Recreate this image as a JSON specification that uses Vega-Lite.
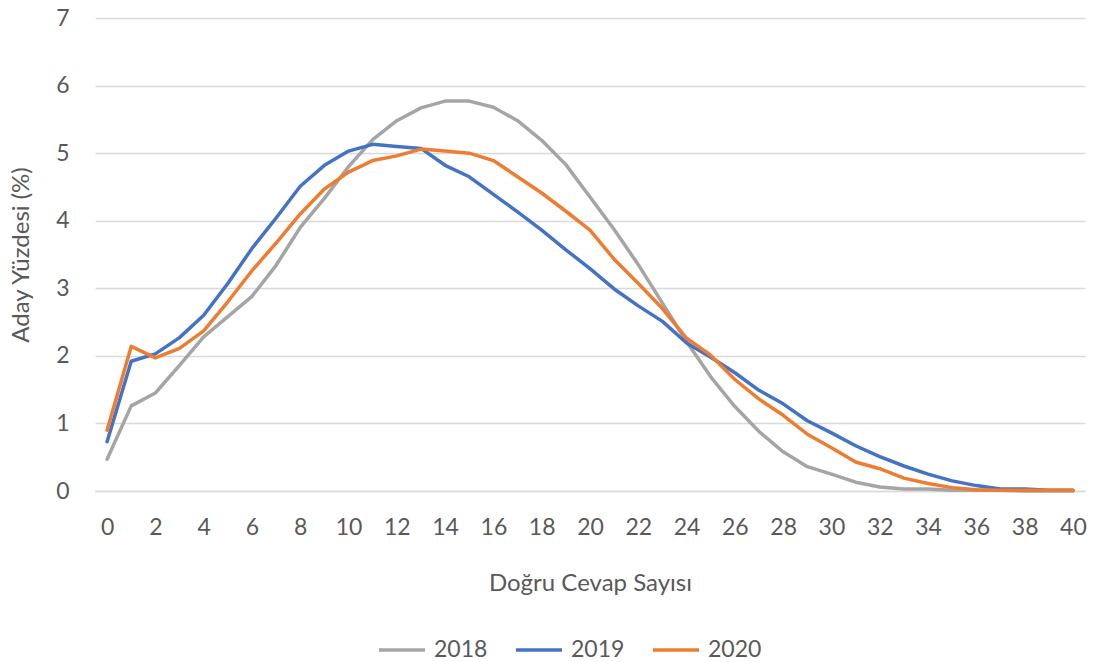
{
  "$schema": "https://vega.github.io/schema/vega-lite/v6.json",
  "autosize": {"type": "none"},
  "padding": {"left": 95, "top": 18, "right": 13, "bottom": 171},
  "width": 990,
  "height": 473,
  "background": "white",
  "config": {
    "font": "Lato",
    "view": {"stroke": null},
    "axis": {"labelColor": "#595959", "titleColor": "#595959", "labelFontSize": 23, "titleFontSize": 24, "titleFontWeight": "normal", "labelFont": "Lato", "titleFont": "Lato"},
    "legend": {"labelColor": "#595959", "labelFontSize": 23, "labelFont": "Lato"}
  },
  "datasets": {
    "d": [
      {"n":0,"yil":"2018","p":0.47},{"n":1,"yil":"2018","p":1.26},{"n":2,"yil":"2018","p":1.45},{"n":3,"yil":"2018","p":1.86},{"n":4,"yil":"2018","p":2.28},{"n":5,"yil":"2018","p":2.58},{"n":6,"yil":"2018","p":2.88},{"n":7,"yil":"2018","p":3.34},{"n":8,"yil":"2018","p":3.9},{"n":9,"yil":"2018","p":4.33},{"n":10,"yil":"2018","p":4.8},{"n":11,"yil":"2018","p":5.2},{"n":12,"yil":"2018","p":5.48},{"n":13,"yil":"2018","p":5.67},{"n":14,"yil":"2018","p":5.77},{"n":15,"yil":"2018","p":5.77},{"n":16,"yil":"2018","p":5.68},{"n":17,"yil":"2018","p":5.48},{"n":18,"yil":"2018","p":5.19},{"n":19,"yil":"2018","p":4.83},{"n":20,"yil":"2018","p":4.35},{"n":21,"yil":"2018","p":3.87},{"n":22,"yil":"2018","p":3.35},{"n":23,"yil":"2018","p":2.78},{"n":24,"yil":"2018","p":2.21},{"n":25,"yil":"2018","p":1.69},{"n":26,"yil":"2018","p":1.25},{"n":27,"yil":"2018","p":0.88},{"n":28,"yil":"2018","p":0.58},{"n":29,"yil":"2018","p":0.36},{"n":30,"yil":"2018","p":0.25},{"n":31,"yil":"2018","p":0.13},{"n":32,"yil":"2018","p":0.06},{"n":33,"yil":"2018","p":0.03},{"n":34,"yil":"2018","p":0.03},{"n":35,"yil":"2018","p":0.01},{"n":36,"yil":"2018","p":0.01},{"n":37,"yil":"2018","p":0.01},{"n":38,"yil":"2018","p":0.0},{"n":39,"yil":"2018","p":0.0},{"n":40,"yil":"2018","p":0.0},
      {"n":0,"yil":"2019","p":0.73},{"n":1,"yil":"2019","p":1.92},{"n":2,"yil":"2019","p":2.03},{"n":3,"yil":"2019","p":2.27},{"n":4,"yil":"2019","p":2.6},{"n":5,"yil":"2019","p":3.07},{"n":6,"yil":"2019","p":3.59},{"n":7,"yil":"2019","p":4.04},{"n":8,"yil":"2019","p":4.51},{"n":9,"yil":"2019","p":4.82},{"n":10,"yil":"2019","p":5.03},{"n":11,"yil":"2019","p":5.13},{"n":12,"yil":"2019","p":5.1},{"n":13,"yil":"2019","p":5.07},{"n":14,"yil":"2019","p":4.82},{"n":15,"yil":"2019","p":4.65},{"n":16,"yil":"2019","p":4.39},{"n":17,"yil":"2019","p":4.13},{"n":18,"yil":"2019","p":3.86},{"n":19,"yil":"2019","p":3.57},{"n":20,"yil":"2019","p":3.29},{"n":21,"yil":"2019","p":2.99},{"n":22,"yil":"2019","p":2.74},{"n":23,"yil":"2019","p":2.51},{"n":24,"yil":"2019","p":2.19},{"n":25,"yil":"2019","p":1.98},{"n":26,"yil":"2019","p":1.75},{"n":27,"yil":"2019","p":1.49},{"n":28,"yil":"2019","p":1.29},{"n":29,"yil":"2019","p":1.04},{"n":30,"yil":"2019","p":0.86},{"n":31,"yil":"2019","p":0.67},{"n":32,"yil":"2019","p":0.51},{"n":33,"yil":"2019","p":0.37},{"n":34,"yil":"2019","p":0.25},{"n":35,"yil":"2019","p":0.15},{"n":36,"yil":"2019","p":0.08},{"n":37,"yil":"2019","p":0.03},{"n":38,"yil":"2019","p":0.03},{"n":39,"yil":"2019","p":0.01},{"n":40,"yil":"2019","p":0.01},
      {"n":0,"yil":"2020","p":0.9},{"n":1,"yil":"2020","p":2.14},{"n":2,"yil":"2020","p":1.97},{"n":3,"yil":"2020","p":2.11},{"n":4,"yil":"2020","p":2.37},{"n":5,"yil":"2020","p":2.8},{"n":6,"yil":"2020","p":3.26},{"n":7,"yil":"2020","p":3.67},{"n":8,"yil":"2020","p":4.1},{"n":9,"yil":"2020","p":4.47},{"n":10,"yil":"2020","p":4.72},{"n":11,"yil":"2020","p":4.89},{"n":12,"yil":"2020","p":4.96},{"n":13,"yil":"2020","p":5.06},{"n":14,"yil":"2020","p":5.03},{"n":15,"yil":"2020","p":5.0},{"n":16,"yil":"2020","p":4.89},{"n":17,"yil":"2020","p":4.65},{"n":18,"yil":"2020","p":4.41},{"n":19,"yil":"2020","p":4.14},{"n":20,"yil":"2020","p":3.86},{"n":21,"yil":"2020","p":3.43},{"n":22,"yil":"2020","p":3.07},{"n":23,"yil":"2020","p":2.7},{"n":24,"yil":"2020","p":2.26},{"n":25,"yil":"2020","p":2.01},{"n":26,"yil":"2020","p":1.65},{"n":27,"yil":"2020","p":1.36},{"n":28,"yil":"2020","p":1.12},{"n":29,"yil":"2020","p":0.84},{"n":30,"yil":"2020","p":0.64},{"n":31,"yil":"2020","p":0.43},{"n":32,"yil":"2020","p":0.33},{"n":33,"yil":"2020","p":0.19},{"n":34,"yil":"2020","p":0.11},{"n":35,"yil":"2020","p":0.05},{"n":36,"yil":"2020","p":0.02},{"n":37,"yil":"2020","p":0.01},{"n":38,"yil":"2020","p":0.01},{"n":39,"yil":"2020","p":0.01},{"n":40,"yil":"2020","p":0.01}
    ]
  },
  "data": {"name": "d"},
  "mark": {"type": "line", "strokeWidth": 3.5, "strokeCap": "round", "strokeJoin": "round"},
  "encoding": {
    "x": {
      "field": "n", "type": "quantitative",
      "scale": {"domain": [-0.5, 40.5], "nice": false, "zero": false},
      "axis": {
        "title": "Doğru Cevap Sayısı",
        "values": [0,2,4,6,8,10,12,14,16,18,20,22,24,26,28,30,32,34,36,38,40],
        "grid": false, "ticks": false,
        "domain": true, "domainColor": "#d9d9d9", "domainWidth": 1.5,
        "labelPadding": 25, "titlePadding": 32, "labelFlush": false
      }
    },
    "y": {
      "field": "p", "type": "quantitative",
      "scale": {"domain": [0, 7], "nice": false},
      "axis": {
        "title": "Aday Yüzdesi (%)",
        "values": [0,1,2,3,4,5,6,7],
        "grid": true, "gridColor": "#d9d9d9", "gridWidth": 1.5,
        "domain": false, "ticks": false,
        "labelPadding": 26, "titlePadding": 22
      }
    },
    "color": {
      "field": "yil", "type": "nominal",
      "scale": {"domain": ["2018", "2019", "2020"], "range": ["#A5A5A5", "#4472C4", "#ED7D31"]},
      "legend": {
        "title": null, "orient": "none", "direction": "horizontal",
        "legendX": 282, "legendY": 607,
        "symbolType": "stroke", "symbolSize": 2116, "symbolStrokeWidth": 3.5,
        "labelOffset": 7, "columnPadding": 21
      }
    }
  }
}
